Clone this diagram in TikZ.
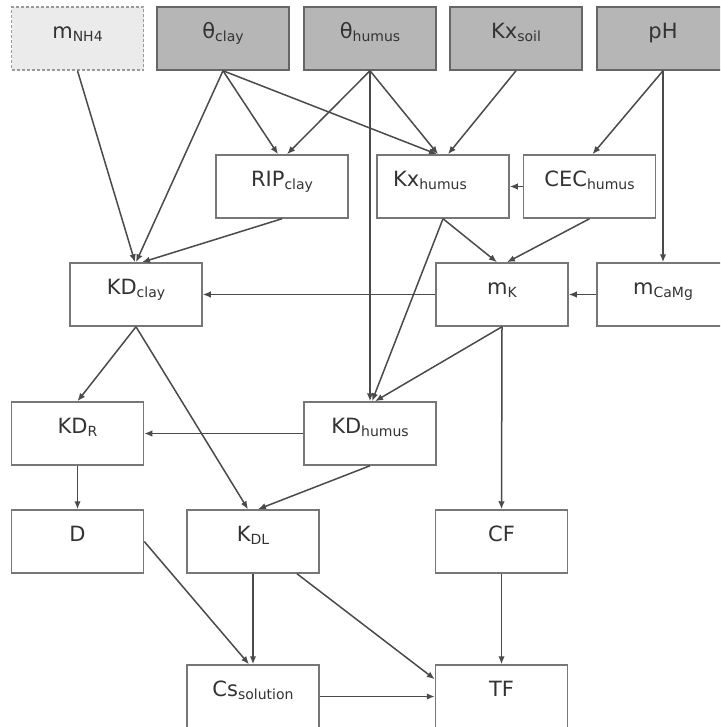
\documentclass[tikz,border=0pt]{standalone}
\usepackage{fontspec}
\setmainfont{DejaVu Sans}
\usetikzlibrary{arrows.meta}
\definecolor{inkgray}{HTML}{333333}
\definecolor{wiregray}{HTML}{4A4A4A}
\definecolor{edgegray}{HTML}{777777}
\definecolor{inputfill}{HTML}{B6B6B6}
\definecolor{inputedge}{HTML}{666666}
\definecolor{optfill}{HTML}{EBEBEB}
\definecolor{optedge}{HTML}{9A9A9A}
% subscript set smaller and lowered
\newcommand{\sbs}[1]{{\fontsize{14pt}{14pt}\selectfont\raisebox{-3pt}{#1}}}

\begin{document}
\begin{tikzpicture}[x=1pt,y=-1pt,
  var/.style={draw=edgegray, line width=1.5pt, fill=white,
    minimum width=132pt, inner sep=0pt,
    text height=31.5pt, text depth=31.5pt,
    font=\fontsize{21pt}{21pt}\selectfont, text=inkgray},
  given/.style={var, fill=inputfill, draw=inputedge},
  optional/.style={var, fill=optfill, draw=optedge, dash pattern=on 3pt off 2pt},
  link/.style={draw=wiregray, line width=1.5pt, -{Latex[length=8pt,width=6.5pt]}}]

\useasboundingbox (0,0) rectangle (720,727);
\clip (0,0) rectangle (720,727);

% inputs
\node[optional] (mnh) at (77.5,38.5) {m\sbs{NH4}};
\node[given] (thc) at (223,38.5) {θ\sbs{clay}};
\node[given] (thh) at (370,38.5) {θ\sbs{humus}};
\node[given] (kxs) at (516,38.5) {Kx\sbs{soil}};
\node[given] (ph) at (663,38.5) {pH};

% derived quantities
\node[var] (rip) at (282,186.5) {RIP\sbs{clay}};
\node[var] (kxh) at (443,186.5) {Kx\sbs{humus}\kern26pt};
\node[var] (cec) at (589.5,186.5) {CEC\sbs{humus}};
\node[var] (kdc) at (136,294.5) {KD\sbs{clay}};
\node[var] (mk) at (502,294.5) {m\sbs{K}};
\node[var] (mca) at (663,294.5) {m\sbs{CaMg}};
\node[var] (kdr) at (77.5,433.5) {KD\sbs{R}};
\node[var] (kdh) at (370,433.5) {KD\sbs{humus}};
\node[var] (d) at (77.5,541.5) {D};
\node[var] (kdl) at (253,541.5) {K\sbs{DL}};
\node[var] (cf) at (501.5,541.5) {CF};
\node[var] (cs) at (253,696.5) {Cs\sbs{solution}};
\node[var] (tf) at (501.5,696.5) {TF};

% dependencies
\draw[link] (mnh.south) -- ([xshift=-1pt]kdc.north);
\draw[link] (thc.south) -- (kdc.north);
\draw[link] (thc.south) -- ([xshift=-4pt]rip.north);
\draw[link] (thc.south) -- ([xshift=-6pt]kxh.north);
\draw[link] (thh.south) -- ([xshift=5pt]rip.north);
\draw[link] (thh.south) -- ([xshift=-5pt]kxh.north);
\draw[link] (thh.south) -- (kdh.north);
\draw[link] (kxs.south) -- ([xshift=5pt]kxh.north);
\draw[link] (ph.south) -- ([xshift=3pt]cec.north);
\draw[link] (ph.south) -- (mca.north);
\draw[link] (cec.west) -- (kxh.east);
\draw[link] (rip.south) -- ([xshift=6pt]kdc.north);
\draw[link] (kxh.south) -- ([xshift=-5pt]mk.north);
\draw[link] (cec.south) -- ([xshift=5pt]mk.north);
\draw[link] (kxh.south) -- ([xshift=2pt]kdh.north);
\draw[link] (mk.west) -- (kdc.east);
\draw[link] (mca.west) -- (mk.east);
\draw[link] (mk.south) -- ([xshift=5pt]kdh.north);
\draw[link] (mk.south) -- (cf.north);
\draw[link] (kdc.south) -- (kdr.north);
\draw[link] (kdc.south) -- ([xshift=-5pt]kdl.north);
\draw[link] (kdh.west) -- (kdr.east);
\draw[link] (kdh.south) -- ([xshift=5pt]kdl.north);
\draw[link] (kdr.south) -- (d.north);
\draw[link] (d.east) -- ([xshift=-4pt]cs.north);
\draw[link] (kdl.south) -- (cs.north);
\draw[link] ([xshift=44pt]kdl.south) -- ([yshift=-15pt]tf.north west);
\draw[link] (cs.east) -- (tf.west);
\draw[link] (cf.south) -- (tf.north);
\end{tikzpicture}
\end{document}
